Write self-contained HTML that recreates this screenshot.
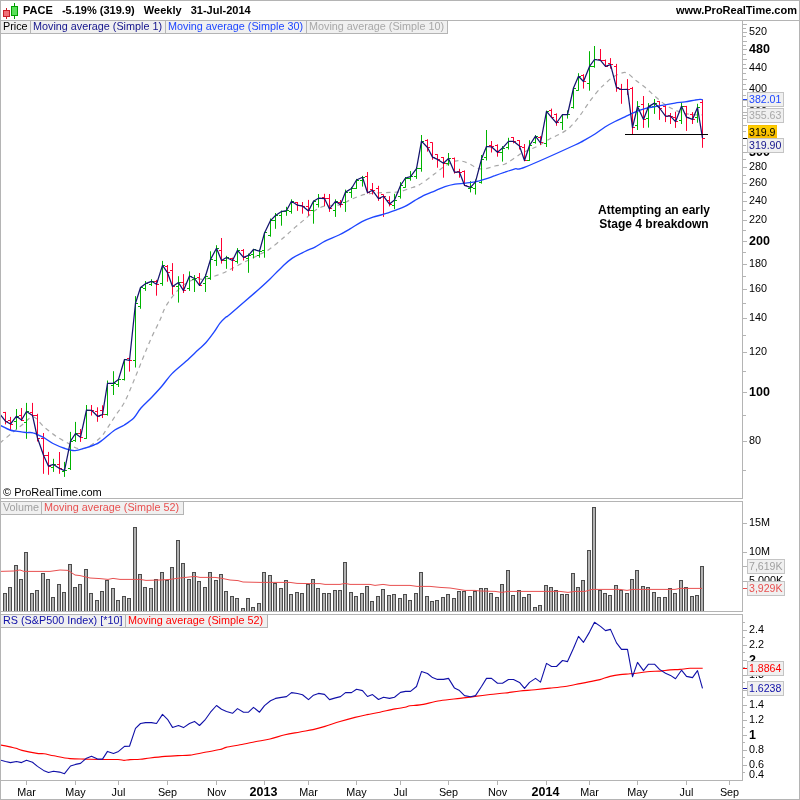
<!DOCTYPE html>
<html><head><meta charset="utf-8"><title>PACE Weekly</title>
<style>
html,body{margin:0;padding:0;background:#fff;}
body{width:800px;height:800px;position:relative;overflow:hidden;will-change:transform;font-family:"Liberation Sans",sans-serif;font-size:11px;color:#000;}
.t{position:absolute;white-space:nowrap;line-height:14px;font-size:10.8px;}
.b{font-size:11px;}
.b{font-weight:bold;}
.b12{font-weight:bold;font-size:12px;line-height:15px;}
.b125{font-weight:bold;font-size:12.5px;line-height:15px;}
.lg{position:absolute;box-sizing:border-box;height:13px;line-height:10px;font-size:10.8px;background:#f0f0f0;border-right:1px solid #b4b4b4;border-bottom:1px solid #b4b4b4;padding-left:2px;white-space:nowrap;overflow:hidden;}
.vb{position:absolute;box-sizing:border-box;font-size:10.6px;border:1px solid #c4c4c4;padding-left:1px;white-space:nowrap;}
</style></head><body>
<svg width="800" height="800" viewBox="0 0 800 800" style="position:absolute;left:0;top:0"><defs><clipPath id="c1"><rect x="1" y="34" width="741" height="464"/></clipPath><clipPath id="c3"><rect x="1" y="615" width="741" height="165"/></clipPath></defs><g clip-path="url(#c1)"><path d="M0.0 443.0C2.0 441.3 8.3 436.0 12.0 433.0C15.7 430.0 18.5 427.7 22.0 425.0C25.5 422.3 29.3 416.6 33.0 416.9C36.7 417.2 40.2 423.7 44.0 426.9C47.8 430.1 51.8 433.4 56.0 436.2C60.2 439.1 65.3 441.7 69.0 443.8C72.7 445.8 74.8 448.0 78.0 448.5C81.2 449.0 84.3 448.6 88.0 446.9C91.7 445.1 96.8 441.0 100.0 438.0C103.2 435.0 104.5 432.3 107.0 428.7C109.5 425.1 112.0 420.9 115.0 416.3C118.0 411.7 121.7 407.6 125.0 401.2C128.3 394.8 131.7 385.8 135.0 377.8C138.3 369.8 142.2 359.9 145.0 353.0C147.8 346.1 149.5 342.0 152.0 336.5C154.5 331.0 157.7 325.1 160.0 320.0C162.3 314.9 163.3 310.6 166.0 306.0C168.7 301.4 172.8 296.0 176.0 292.3C179.2 288.6 181.8 286.2 185.0 284.0C188.2 281.8 191.7 280.0 195.0 279.2C198.3 278.4 201.7 279.7 205.0 279.2C208.3 278.7 211.7 277.1 215.0 276.0C218.3 274.9 222.5 273.4 225.0 272.3C227.5 271.2 226.7 271.2 230.0 269.5C233.3 267.8 240.0 264.3 245.0 261.8C250.0 259.3 255.8 256.5 260.0 254.3C264.2 252.1 265.8 251.8 270.0 248.8C274.2 245.8 280.8 240.0 285.0 236.4C289.2 232.8 291.7 230.3 295.0 227.4C298.3 224.5 301.7 222.0 305.0 219.2C308.3 216.4 311.7 212.7 315.0 210.5C318.3 208.3 320.8 206.9 325.0 206.0C329.2 205.1 335.8 205.8 340.0 204.8C344.2 203.8 346.3 201.6 350.0 200.0C353.7 198.4 357.8 196.3 362.0 195.2C366.2 194.0 370.3 193.6 375.0 193.1C379.7 192.6 385.8 192.6 390.0 192.4C394.2 192.2 396.7 192.4 400.0 191.7C403.3 191.0 407.0 189.3 410.0 188.3C413.0 187.3 415.5 186.7 418.0 185.5C420.5 184.3 422.2 183.0 425.0 181.0C427.8 179.0 431.7 176.1 435.0 173.6C438.3 171.1 441.7 168.1 445.0 166.0C448.3 163.9 452.2 162.0 455.0 161.2C457.8 160.4 459.5 160.7 462.0 161.2C464.5 161.7 467.5 162.8 470.0 164.0C472.5 165.2 474.5 167.3 477.0 168.1C479.5 168.9 482.0 169.2 485.0 168.8C488.0 168.5 491.7 166.8 495.0 166.0C498.3 165.2 501.7 165.4 505.0 164.0C508.3 162.6 512.2 159.6 515.0 157.8C517.8 156.0 519.5 154.4 522.0 153.0C524.5 151.6 527.0 150.8 530.0 149.5C533.0 148.2 536.7 146.8 540.0 145.0C543.3 143.2 546.7 140.6 550.0 138.8C553.3 137.0 556.7 135.9 560.0 134.0C563.3 132.1 566.7 130.3 570.0 127.2C573.3 124.1 576.7 119.9 580.0 115.5C583.3 111.1 586.7 105.5 590.0 101.0C593.3 96.5 597.5 91.4 600.0 88.6C602.5 85.8 603.0 85.7 605.0 83.9C607.0 82.1 609.5 79.4 612.0 77.7C614.5 76.0 617.5 74.4 620.0 73.6C622.5 72.8 624.5 71.9 627.0 72.9C629.5 73.9 632.0 77.4 635.0 79.8C638.0 82.2 641.7 84.5 645.0 87.3C648.3 90.0 651.7 93.4 655.0 96.3C658.3 99.2 661.7 102.2 665.0 104.5C668.3 106.8 671.7 108.5 675.0 110.0C678.3 111.5 681.7 112.7 685.0 113.5C688.3 114.3 692.2 114.6 695.0 114.8C697.8 115.0 700.8 114.8 702.0 114.8" fill="none" stroke="#a8a8a8" stroke-width="1.2" stroke-dasharray="4.5,4"/><path d="M16.5 409.0V429.4M14.0 421.5H16.5M16.5 416.5H19.0M26.5 402.9V438.8M24.0 422.5H26.5M26.5 411.5H29.0M53.5 458.8V471.9M51.0 467.5H53.5M53.5 464.5H56.0M64.5 461.9V476.9M62.0 471.5H64.5M64.5 470.5H67.0M70.5 431.9V470.0M68.0 468.5H70.5M70.5 441.5H73.0M75.5 421.9V441.9M73.0 440.5H75.5M75.5 433.5H78.0M86.5 405.0V438.8M84.0 438.5H86.5M86.5 410.5H89.0M107.5 380.5V415.6M105.0 414.5H107.5M107.5 383.5H110.0M113.5 371.2V395.0M111.0 385.5H113.5M113.5 383.5H116.0M118.5 379.4V387.0M116.0 384.5H118.5M118.5 379.5H121.0M124.5 359.2V380.5M122.0 379.5H124.5M124.5 359.5H127.0M135.5 296.1V367.5M133.0 360.5H135.5M135.5 303.5H138.0M140.5 287.5V308.8M138.0 306.5H140.5M140.5 287.5H143.0M145.5 281.0V290.9M143.0 288.5H145.5M145.5 283.5H148.0M151.5 279.2V286.0M149.0 284.5H151.5M151.5 281.5H154.0M162.5 260.9V285.8M160.0 283.5H162.5M162.5 265.5H165.0M178.5 276.2V302.6M176.0 286.5H178.5M178.5 282.5H181.0M189.5 271.4V290.9M187.0 288.5H189.5M189.5 276.5H192.0M194.5 275.1V292.0M192.0 279.5H194.5M194.5 278.5H197.0M205.5 274.4V292.0M203.0 283.5H205.5M205.5 276.5H208.0M210.5 251.3V279.9M208.0 278.5H210.5M210.5 259.5H213.0M216.5 245.2V265.9M214.0 260.5H216.5M216.5 248.5H219.0M226.5 255.8V268.8M224.0 260.5H226.5M226.5 257.5H229.0M237.5 248.1V263.6M235.0 261.5H237.5M237.5 250.5H240.0M248.5 253.6V272.8M246.0 258.5H248.5M248.5 255.5H251.0M253.5 248.8V258.4M251.0 254.5H253.5M253.5 249.5H256.0M259.5 249.5V257.7M257.0 255.5H259.5M259.5 251.5H262.0M264.5 232.3V257.7M262.0 250.5H264.5M264.5 232.5H267.0M270.5 218.5V236.7M268.0 235.5H270.5M270.5 220.5H273.0M275.5 213.0V228.8M273.0 220.5H275.5M275.5 215.5H278.0M281.5 210.5V225.7M279.0 215.5H281.5M281.5 211.5H284.0M286.5 206.8V215.8M284.0 211.5H286.5M286.5 210.5H289.0M291.5 199.3V213.7M289.0 211.5H291.5M291.5 201.5H294.0M313.5 200.6V223.7M311.0 210.5H313.5M313.5 201.5H316.0M318.5 194.0V207.5M316.0 204.5H318.5M318.5 198.5H321.0M335.5 199.3V216.9M333.0 210.5H335.5M335.5 201.5H338.0M345.5 189.6V211.9M343.0 202.5H345.5M345.5 192.5H348.0M351.5 186.9V197.9M349.0 192.5H351.5M351.5 188.5H354.0M356.5 178.9V189.0M354.0 188.5H356.5M356.5 180.5H359.0M362.5 175.9V186.6M360.0 180.5H362.5M362.5 177.5H365.0M394.5 193.8V209.2M392.0 205.5H394.5M394.5 200.5H397.0M400.5 182.1V198.6M398.0 196.5H400.5M400.5 185.5H403.0M405.5 177.0V187.6M403.0 187.5H405.5M405.5 178.5H408.0M410.5 171.1V180.7M408.0 178.5H410.5M410.5 176.5H413.0M416.5 167.0V178.9M414.0 176.5H416.5M416.5 168.5H419.0M421.5 135.0V171.7M419.0 168.5H421.5M421.5 141.5H424.0M448.5 153.0V165.7M446.0 163.5H448.5M448.5 158.5H451.0M470.5 181.2V192.4M468.0 188.5H470.5M470.5 187.5H473.0M475.5 179.5V194.6M473.0 188.5H475.5M475.5 181.5H478.0M481.5 155.0V183.6M479.0 182.5H481.5M481.5 159.5H484.0M486.5 130.0V160.5M484.0 157.5H486.5M486.5 146.5H489.0M502.5 146.1V161.6M500.0 152.5H502.5M502.5 148.5H505.0M508.5 137.8V149.5M506.0 147.5H508.5M508.5 141.5H511.0M529.5 140.2V161.0M527.0 160.5H529.5M529.5 145.5H532.0M535.5 135.1V143.7M533.0 142.5H535.5M535.5 136.5H538.0M546.5 110.7V147.0M544.0 143.5H546.5M546.5 111.5H549.0M562.5 114.5V129.9M560.0 122.5H562.5M562.5 114.5H565.0M567.5 110.4V118.6M565.0 114.5H567.5M567.5 114.5H570.0M573.5 87.5V108.6M571.0 107.5H573.5M573.5 88.5H576.0M578.5 73.2V90.7M576.0 90.5H578.5M578.5 76.5H581.0M589.5 51.2V90.7M587.0 83.5H589.5M589.5 66.5H592.0M594.5 46.0V67.7M592.0 66.5H594.5M594.5 59.5H597.0M637.5 101.1V130.0M635.0 125.5H637.5M637.5 106.5H640.0M648.5 103.1V127.6M646.0 118.5H648.5M648.5 106.5H651.0M654.5 99.0V113.9M652.0 106.5H654.5M654.5 103.5H657.0M681.5 102.5V124.0M679.0 120.5H681.5M681.5 106.5H684.0M697.5 103.8V122.7M695.0 117.5H697.5M697.5 107.5H700.0" stroke="#00b400" stroke-width="1" fill="none"/><path d="M5.5 411.9V424.4M3.0 412.5H5.5M5.5 421.5H8.0M10.5 416.9V430.0M8.0 420.5H10.5M10.5 424.5H13.0M21.5 408.0V421.0M19.0 415.5H21.5M21.5 420.5H24.0M32.5 402.9V416.9M30.0 412.5H32.5M32.5 415.5H35.0M37.5 413.8V441.5M35.0 415.5H37.5M37.5 438.5H40.0M43.5 433.0V473.8M41.0 438.5H43.5M43.5 455.5H46.0M48.5 451.9V474.8M46.0 455.5H48.5M48.5 466.5H51.0M59.5 452.0V473.8M57.0 464.5H59.5M59.5 468.5H62.0M80.5 429.0V441.9M78.0 433.5H80.5M80.5 437.5H83.0M91.5 405.0V415.6M89.0 410.5H91.5M91.5 410.5H94.0M97.5 407.3V421.8M95.0 411.5H97.5M97.5 416.5H100.0M102.5 405.3V418.0M100.0 410.5H102.5M102.5 414.5H105.0M129.5 357.8V371.6M127.0 358.5H129.5M129.5 360.5H132.0M156.5 279.9V295.7M154.0 281.5H156.5M156.5 284.5H159.0M167.5 265.0V281.7M165.0 266.5H167.5M167.5 272.5H170.0M172.5 263.1V294.7M170.0 270.5H172.5M172.5 286.5H175.0M183.5 274.1V293.0M181.0 282.5H183.5M183.5 290.5H186.0M199.5 273.0V286.0M197.0 277.5H199.5M199.5 285.5H202.0M221.5 238.0V263.6M219.0 250.5H221.5M221.5 260.5H224.0M232.5 257.7V270.8M230.0 258.5H232.5M232.5 260.5H235.0M243.5 249.0V260.5M241.0 250.5H243.5M243.5 257.5H246.0M297.5 202.0V210.9M295.0 202.5H297.5M297.5 205.5H300.0M302.5 202.0V213.7M300.0 205.5H302.5M302.5 206.5H305.0M308.5 199.9V215.8M306.0 206.5H308.5M308.5 210.5H311.0M324.5 193.8V206.1M322.0 197.5H324.5M324.5 198.5H327.0M329.5 194.0V211.9M327.0 198.5H329.5M329.5 208.5H332.0M340.5 200.0V207.5M338.0 202.5H340.5M340.5 204.5H343.0M367.5 172.0V193.5M365.0 176.5H367.5M367.5 192.5H370.0M372.5 183.0V194.5M370.0 189.5H372.5M372.5 190.5H375.0M378.5 185.8V200.9M376.0 188.5H378.5M378.5 198.5H381.0M383.5 194.5V216.9M381.0 194.5H383.5M383.5 196.5H386.0M389.5 196.2V206.4M387.0 200.5H389.5M389.5 204.5H392.0M427.5 139.2V151.6M425.0 140.5H427.5M427.5 147.5H430.0M432.5 142.4V159.8M430.0 142.5H432.5M432.5 157.5H435.0M437.5 154.3V167.7M435.0 154.5H437.5M437.5 159.5H440.0M443.5 157.1V177.7M441.0 157.5H443.5M443.5 163.5H446.0M454.5 157.5V173.6M452.0 158.5H454.5M454.5 172.5H457.0M459.5 168.8V177.7M457.0 171.5H459.5M459.5 172.5H462.0M464.5 170.4V186.0M462.0 171.5H464.5M464.5 185.5H467.0M491.5 141.0V152.5M489.0 145.5H491.5M491.5 146.5H494.0M497.5 144.3V156.7M495.0 145.5H497.5M497.5 152.5H500.0M513.5 137.1V143.3M511.0 137.5H513.5M513.5 141.5H516.0M519.5 140.2V149.5M517.0 140.5H519.5M519.5 146.5H522.0M524.5 144.0V161.2M522.0 147.5H524.5M524.5 160.5H527.0M540.5 136.1V145.0M538.0 137.5H540.5M540.5 142.5H543.0M551.5 108.6V117.5M549.0 110.5H551.5M551.5 117.5H554.0M556.5 113.4V125.8M554.0 114.5H556.5M556.5 122.5H559.0M583.5 74.2V88.6M581.0 75.5H583.5M583.5 81.5H586.0M600.5 49.0V60.4M598.0 59.5H600.5M600.5 60.5H603.0M605.5 59.5V66.9M603.0 60.5H605.5M605.5 66.5H608.0M610.5 58.1V68.7M608.0 63.5H610.5M610.5 64.5H613.0M616.5 63.9V91.8M614.0 66.5H616.5M616.5 87.5H619.0M621.5 83.9V103.8M619.0 89.5H621.5M621.5 89.5H624.0M627.5 79.1V94.9M625.0 89.5H627.5M627.5 89.5H630.0M632.5 86.9V134.5M630.0 88.5H632.5M632.5 127.5H635.0M643.5 96.0V127.9M641.0 104.5H643.5M643.5 119.5H646.0M659.5 101.1V119.9M657.0 101.5H659.5M659.5 108.5H662.0M665.5 105.2V122.1M663.0 106.5H665.5M665.5 116.5H668.0M670.5 113.0V124.0M668.0 115.5H670.5M670.5 116.5H673.0M675.5 111.7V127.9M673.0 117.5H675.5M675.5 121.5H678.0M686.5 105.9V130.9M684.0 106.5H686.5M686.5 117.5H689.0M692.5 112.1V124.0M690.0 114.5H692.5M692.5 119.5H695.0M702.5 99.5V147.8M700.0 102.5H702.5M702.5 138.5H705.0" stroke="#ff0033" stroke-width="1" fill="none"/><path d="M0.0 425.2C1.7 426.0 7.3 429.0 10.0 430.0C12.7 431.0 13.3 430.8 16.0 431.2C18.7 431.7 23.2 432.2 26.0 432.5C28.8 432.8 30.2 432.0 33.0 432.8C35.8 433.5 39.7 435.5 43.0 437.2C46.3 439.0 49.3 441.6 53.0 443.5C56.7 445.4 61.3 447.3 65.0 448.5C68.7 449.7 71.7 450.7 75.0 450.6C78.3 450.5 81.8 449.0 85.0 448.1C88.2 447.2 91.5 446.0 94.0 445.0C96.5 444.0 96.5 444.4 100.0 441.9C103.5 439.4 110.8 432.8 114.8 430.0C118.8 427.2 120.8 427.2 124.0 425.2C127.2 423.1 131.2 420.6 134.0 417.7C136.8 414.8 138.0 411.4 141.0 408.0C144.0 404.6 148.5 400.7 152.0 397.0C155.5 393.3 158.7 389.9 162.0 386.0C165.3 382.1 168.0 377.7 172.0 373.6C176.0 369.5 181.7 365.2 186.0 361.3C190.3 357.4 194.7 353.1 198.0 350.0C201.3 346.9 203.3 345.5 206.0 342.5C208.7 339.5 211.7 335.4 214.0 332.2C216.3 329.0 218.0 325.7 220.0 323.2C222.0 320.7 224.3 318.5 226.0 317.0C227.7 315.5 224.7 318.8 230.0 314.3C235.3 309.8 251.3 295.9 258.0 290.0C264.7 284.1 266.0 282.9 270.0 279.0C274.0 275.1 278.3 270.3 282.0 266.9C285.7 263.5 288.2 261.0 292.0 258.4C295.8 255.8 301.2 253.4 305.0 251.5C308.8 249.6 311.7 248.8 315.0 247.1C318.3 245.4 321.0 243.2 325.0 241.2C329.0 239.2 334.8 237.1 339.0 235.0C343.2 232.9 346.2 231.1 350.0 228.9C353.8 226.7 358.2 223.6 362.0 221.7C365.8 219.8 369.5 218.4 373.0 217.2C376.5 216.0 379.3 215.6 383.0 214.4C386.7 213.2 391.3 211.6 395.0 210.3C398.7 209.0 401.7 208.1 405.0 206.4C408.3 204.8 411.7 202.3 415.0 200.4C418.3 198.5 421.7 196.5 425.0 194.9C428.3 193.3 431.7 192.2 435.0 190.8C438.3 189.4 441.7 187.8 445.0 186.7C448.3 185.6 451.7 184.8 455.0 184.2C458.3 183.6 461.7 183.6 465.0 183.2C468.3 182.8 471.7 182.5 475.0 181.8C478.3 181.1 481.7 180.1 485.0 179.1C488.3 178.1 491.7 176.8 495.0 175.7C498.3 174.5 501.7 173.3 505.0 172.2C508.3 171.0 511.7 169.7 515.0 168.8C518.3 168.0 515.0 171.1 525.0 167.1C535.0 163.1 565.0 149.6 575.0 145.0C585.0 140.4 581.7 141.6 585.0 139.8C588.3 138.0 591.7 136.1 595.0 134.0C598.3 131.9 601.7 129.1 605.0 127.0C608.3 124.9 611.7 123.2 615.0 121.5C618.3 119.8 621.7 118.5 625.0 116.9C628.3 115.3 631.7 113.5 635.0 112.1C638.3 110.7 641.7 109.5 645.0 108.6C648.3 107.7 651.7 107.2 655.0 106.6C658.3 106.0 661.7 105.4 665.0 104.8C668.3 104.2 671.7 103.6 675.0 103.1C678.3 102.6 681.7 102.3 685.0 101.8C688.3 101.3 692.5 100.5 695.0 100.1C697.5 99.7 698.7 99.5 700.0 99.4C701.3 99.3 702.2 99.7 702.7 99.7" fill="none" stroke="#1e46ff" stroke-width="1.35" stroke-linejoin="round"/><polyline points="-0.5,413.5 5.5,421.2 10.5,424.0 16.5,416.2 21.5,420.0 26.5,411.5 32.5,415.4 37.5,438.0 43.5,455.2 48.5,466.2 53.5,464.4 59.5,468.5 64.5,470.6 70.5,441.2 75.5,433.5 80.5,437.2 86.5,410.0 91.5,410.3 97.5,416.3 102.5,414.6 107.5,383.3 113.5,383.3 118.5,379.4 124.5,359.5 129.5,360.3 135.5,303.3 140.5,287.5 145.5,283.7 151.5,281.3 156.5,284.3 162.5,265.4 167.5,272.7 172.5,286.5 178.5,282.6 183.5,290.6 189.5,276.0 194.5,278.5 199.5,285.4 205.5,276.0 210.5,259.5 216.5,248.3 221.5,260.5 226.5,257.5 232.5,260.5 237.5,250.4 243.5,257.3 248.5,255.4 253.5,249.5 259.5,251.2 264.5,233.0 270.5,220.6 275.5,215.5 281.5,211.6 286.5,210.5 291.5,201.3 297.5,205.2 302.5,206.1 308.5,210.9 313.5,201.3 318.5,198.2 324.5,198.6 329.5,208.9 335.5,201.3 340.5,204.8 345.5,192.1 351.5,188.5 356.5,180.0 362.5,177.3 367.5,192.7 372.5,190.3 378.5,198.6 383.5,196.2 389.5,204.1 394.5,200.0 400.5,185.5 405.5,178.0 410.5,176.6 416.5,168.6 421.5,141.1 427.5,147.5 432.5,157.1 437.5,159.4 443.5,163.3 448.5,158.5 454.5,172.2 459.5,172.2 464.5,185.3 470.5,187.3 475.5,181.8 481.5,159.1 486.5,146.5 491.5,146.8 497.5,152.3 502.5,148.1 508.5,141.3 513.5,141.3 519.5,146.1 524.5,160.5 529.5,145.5 535.5,136.1 540.5,143.0 546.5,111.3 551.5,117.3 556.5,123.0 562.5,114.5 567.5,114.5 573.5,88.0 578.5,76.3 583.5,81.5 589.5,66.4 594.5,59.5 600.5,60.4 605.5,66.4 610.5,64.6 616.5,87.6 621.5,89.5 627.5,89.4 632.5,127.6 637.5,106.6 643.5,119.4 648.5,106.6 654.5,103.1 659.5,108.0 665.5,116.2 670.5,116.2 675.5,121.7 681.5,106.2 686.5,117.2 692.5,119.4 697.5,107.5 702.5,138.2" fill="none" stroke="#14146e" stroke-width="1.25" stroke-linejoin="round"/><line x1="625" y1="134.5" x2="708" y2="134.5" stroke="#000" stroke-width="1.2"/></g><g fill="#b2b2b2" stroke="#4c4c4c" stroke-width="1" shape-rendering="crispEdges"><rect x="3.5" y="593.5" width="3" height="18.0"/><rect x="8.5" y="587.5" width="3" height="24.0"/><rect x="14.5" y="565.5" width="3" height="46.0"/><rect x="19.5" y="579.5" width="3" height="32.0"/><rect x="24.5" y="552.5" width="3" height="59.0"/><rect x="30.5" y="593.5" width="3" height="18.0"/><rect x="35.5" y="590.5" width="3" height="21.0"/><rect x="41.5" y="573.5" width="3" height="38.0"/><rect x="46.5" y="579.5" width="3" height="32.0"/><rect x="51.5" y="597.5" width="3" height="14.0"/><rect x="57.5" y="584.5" width="3" height="27.0"/><rect x="62.5" y="592.5" width="3" height="19.0"/><rect x="68.5" y="564.5" width="3" height="47.0"/><rect x="73.5" y="587.5" width="3" height="24.0"/><rect x="78.5" y="584.5" width="3" height="27.0"/><rect x="84.5" y="569.5" width="3" height="42.0"/><rect x="89.5" y="593.5" width="3" height="18.0"/><rect x="95.5" y="600.5" width="3" height="11.0"/><rect x="100.5" y="591.5" width="3" height="20.0"/><rect x="105.5" y="580.5" width="3" height="31.0"/><rect x="111.5" y="588.5" width="3" height="23.0"/><rect x="116.5" y="600.5" width="3" height="11.0"/><rect x="122.5" y="596.5" width="3" height="15.0"/><rect x="127.5" y="598.5" width="3" height="13.0"/><rect x="133.5" y="527.5" width="3" height="84.0"/><rect x="138.5" y="574.5" width="3" height="37.0"/><rect x="143.5" y="587.5" width="3" height="24.0"/><rect x="149.5" y="588.5" width="3" height="23.0"/><rect x="154.5" y="579.5" width="3" height="32.0"/><rect x="160.5" y="572.5" width="3" height="39.0"/><rect x="165.5" y="580.5" width="3" height="31.0"/><rect x="170.5" y="567.5" width="3" height="44.0"/><rect x="176.5" y="540.5" width="3" height="71.0"/><rect x="181.5" y="563.5" width="3" height="48.0"/><rect x="187.5" y="579.5" width="3" height="32.0"/><rect x="192.5" y="572.5" width="3" height="39.0"/><rect x="197.5" y="581.5" width="3" height="30.0"/><rect x="203.5" y="587.5" width="3" height="24.0"/><rect x="208.5" y="572.5" width="3" height="39.0"/><rect x="214.5" y="580.5" width="3" height="31.0"/><rect x="219.5" y="574.5" width="3" height="37.0"/><rect x="224.5" y="591.5" width="3" height="20.0"/><rect x="230.5" y="596.5" width="3" height="15.0"/><rect x="235.5" y="598.5" width="3" height="13.0"/><rect x="241.5" y="608.5" width="3" height="3.0"/><rect x="246.5" y="598.5" width="3" height="13.0"/><rect x="251.5" y="607.5" width="3" height="4.0"/><rect x="257.5" y="603.5" width="3" height="8.0"/><rect x="262.5" y="572.5" width="3" height="39.0"/><rect x="268.5" y="575.5" width="3" height="36.0"/><rect x="273.5" y="583.5" width="3" height="28.0"/><rect x="279.5" y="588.5" width="3" height="23.0"/><rect x="284.5" y="580.5" width="3" height="31.0"/><rect x="289.5" y="594.5" width="3" height="17.0"/><rect x="295.5" y="592.5" width="3" height="19.0"/><rect x="300.5" y="593.5" width="3" height="18.0"/><rect x="306.5" y="584.5" width="3" height="27.0"/><rect x="311.5" y="579.5" width="3" height="32.0"/><rect x="316.5" y="588.5" width="3" height="23.0"/><rect x="322.5" y="593.5" width="3" height="18.0"/><rect x="327.5" y="593.5" width="3" height="18.0"/><rect x="333.5" y="590.5" width="3" height="21.0"/><rect x="338.5" y="590.5" width="3" height="21.0"/><rect x="343.5" y="562.5" width="3" height="49.0"/><rect x="349.5" y="592.5" width="3" height="19.0"/><rect x="354.5" y="596.5" width="3" height="15.0"/><rect x="360.5" y="593.5" width="3" height="18.0"/><rect x="365.5" y="586.5" width="3" height="25.0"/><rect x="370.5" y="601.5" width="3" height="10.0"/><rect x="376.5" y="596.5" width="3" height="15.0"/><rect x="381.5" y="589.5" width="3" height="22.0"/><rect x="387.5" y="595.5" width="3" height="16.0"/><rect x="392.5" y="594.5" width="3" height="17.0"/><rect x="398.5" y="598.5" width="3" height="13.0"/><rect x="403.5" y="594.5" width="3" height="17.0"/><rect x="408.5" y="600.5" width="3" height="11.0"/><rect x="414.5" y="593.5" width="3" height="18.0"/><rect x="419.5" y="572.5" width="3" height="39.0"/><rect x="425.5" y="596.5" width="3" height="15.0"/><rect x="430.5" y="601.5" width="3" height="10.0"/><rect x="435.5" y="600.5" width="3" height="11.0"/><rect x="441.5" y="597.5" width="3" height="14.0"/><rect x="446.5" y="594.5" width="3" height="17.0"/><rect x="452.5" y="598.5" width="3" height="13.0"/><rect x="457.5" y="591.5" width="3" height="20.0"/><rect x="462.5" y="591.5" width="3" height="20.0"/><rect x="468.5" y="596.5" width="3" height="15.0"/><rect x="473.5" y="591.5" width="3" height="20.0"/><rect x="479.5" y="588.5" width="3" height="23.0"/><rect x="484.5" y="588.5" width="3" height="23.0"/><rect x="489.5" y="593.5" width="3" height="18.0"/><rect x="495.5" y="597.5" width="3" height="14.0"/><rect x="500.5" y="584.5" width="3" height="27.0"/><rect x="506.5" y="570.5" width="3" height="41.0"/><rect x="511.5" y="595.5" width="3" height="16.0"/><rect x="517.5" y="590.5" width="3" height="21.0"/><rect x="522.5" y="597.5" width="3" height="14.0"/><rect x="527.5" y="594.5" width="3" height="17.0"/><rect x="533.5" y="607.5" width="3" height="4.0"/><rect x="538.5" y="605.5" width="3" height="6.0"/><rect x="544.5" y="585.5" width="3" height="26.0"/><rect x="549.5" y="587.5" width="3" height="24.0"/><rect x="554.5" y="590.5" width="3" height="21.0"/><rect x="560.5" y="594.5" width="3" height="17.0"/><rect x="565.5" y="594.5" width="3" height="17.0"/><rect x="571.5" y="573.5" width="3" height="38.0"/><rect x="576.5" y="587.5" width="3" height="24.0"/><rect x="581.5" y="580.5" width="3" height="31.0"/><rect x="587.5" y="550.5" width="3" height="61.0"/><rect x="592.5" y="507.5" width="3" height="104.0"/><rect x="598.5" y="590.5" width="3" height="21.0"/><rect x="603.5" y="593.5" width="3" height="18.0"/><rect x="608.5" y="595.5" width="3" height="16.0"/><rect x="614.5" y="585.5" width="3" height="26.0"/><rect x="619.5" y="590.5" width="3" height="21.0"/><rect x="625.5" y="593.5" width="3" height="18.0"/><rect x="630.5" y="579.5" width="3" height="32.0"/><rect x="635.5" y="570.5" width="3" height="41.0"/><rect x="641.5" y="586.5" width="3" height="25.0"/><rect x="646.5" y="587.5" width="3" height="24.0"/><rect x="652.5" y="592.5" width="3" height="19.0"/><rect x="657.5" y="597.5" width="3" height="14.0"/><rect x="663.5" y="597.5" width="3" height="14.0"/><rect x="668.5" y="588.5" width="3" height="23.0"/><rect x="673.5" y="593.5" width="3" height="18.0"/><rect x="679.5" y="580.5" width="3" height="31.0"/><rect x="684.5" y="587.5" width="3" height="24.0"/><rect x="690.5" y="596.5" width="3" height="15.0"/><rect x="695.5" y="595.5" width="3" height="16.0"/><rect x="700.5" y="566.5" width="3" height="45.0"/></g><polyline points="0.0,571.4 14.0,571.0 20.0,570.0 24.0,571.4 50.0,571.4 60.0,570.0 68.0,570.4 75.0,575.0 80.0,575.6 90.0,578.0 100.0,578.6 108.0,579.4 113.0,578.4 120.0,579.4 140.0,579.4 146.0,580.4 160.0,580.0 170.0,579.4 180.0,578.0 195.0,576.4 200.0,577.4 215.0,577.4 222.0,578.4 230.0,580.0 238.0,580.6 243.0,582.0 260.0,582.4 290.0,582.4 297.0,583.4 310.0,583.6 320.0,583.6 325.0,584.4 340.0,584.4 345.0,583.4 350.0,584.4 370.0,584.4 375.0,585.4 383.0,584.4 390.0,585.4 410.0,585.4 417.0,586.4 430.0,586.4 440.0,587.4 450.0,588.0 465.0,590.4 475.0,590.4 480.0,591.0 495.0,591.4 502.0,592.4 508.0,591.4 560.0,591.4 568.0,592.4 575.0,591.4 585.0,591.4 592.0,589.4 610.0,589.4 620.0,589.4 627.0,590.4 633.0,589.4 675.0,589.4 680.0,588.4 702.0,588.4" fill="none" stroke="#e85050" stroke-width="1"/><g clip-path="url(#c3)"><path d="M0.0 744.9C1.7 745.2 7.3 746.3 10.0 746.9C12.7 747.5 14.0 747.6 16.0 748.2C18.0 748.8 18.5 749.5 22.0 750.4C25.5 751.3 33.3 752.8 37.0 753.4C40.7 754.0 41.2 753.3 44.0 753.7C46.8 754.1 49.7 755.0 54.0 755.8C58.3 756.6 64.8 758.0 70.0 758.6C75.2 759.2 80.0 759.0 85.0 759.1C90.0 759.2 94.5 759.4 100.0 759.5C105.5 759.6 114.0 759.4 118.0 759.5C122.0 759.6 122.0 760.4 124.0 760.4C126.0 760.4 127.3 759.8 130.0 759.6C132.7 759.4 136.7 759.6 140.0 759.3C143.3 759.0 145.8 758.5 150.0 758.0C154.2 757.5 160.3 756.8 165.0 756.4C169.7 756.0 173.8 755.8 178.0 755.6C182.2 755.4 185.5 755.7 190.0 755.1C194.5 754.5 200.0 753.2 205.0 752.3C210.0 751.4 216.5 750.3 220.0 749.5C223.5 748.7 222.7 748.2 226.0 747.4C229.3 746.6 235.2 745.7 240.0 744.8C244.8 743.9 250.0 742.8 255.0 741.8C260.0 740.8 265.0 740.2 270.0 739.0C275.0 737.8 280.0 736.0 285.0 734.8C290.0 733.6 295.3 732.9 300.0 732.0C304.7 731.1 308.8 730.5 313.0 729.6C317.2 728.7 320.5 727.8 325.0 726.4C329.5 725.0 335.0 723.0 340.0 721.5C345.0 720.0 350.5 718.5 355.0 717.4C359.5 716.2 362.8 715.5 367.0 714.6C371.2 713.7 375.3 713.2 380.0 712.2C384.7 711.2 390.8 709.7 395.0 708.9C399.2 708.1 402.5 707.8 405.0 707.3C407.5 706.8 407.5 706.1 410.0 705.7C412.5 705.3 415.0 705.7 420.0 704.9C425.0 704.1 433.3 701.9 440.0 700.8C446.7 699.7 454.2 699.1 460.0 698.4C465.8 697.7 470.0 697.0 475.0 696.4C480.0 695.8 485.0 695.1 490.0 694.5C495.0 693.9 500.0 693.6 505.0 693.0C510.0 692.4 515.0 691.5 520.0 691.0C525.0 690.5 530.0 690.2 535.0 689.7C540.0 689.2 545.0 688.6 550.0 688.1C555.0 687.6 560.0 687.2 565.0 686.5C570.0 685.8 575.8 684.4 580.0 683.6C584.2 682.8 586.7 682.3 590.0 681.6C593.3 680.9 596.7 680.5 600.0 679.6C603.3 678.7 606.7 677.2 610.0 676.4C613.3 675.6 616.7 675.0 620.0 674.6C623.3 674.2 626.7 674.1 630.0 673.8C633.3 673.5 636.7 673.1 640.0 672.7C643.3 672.3 646.7 671.8 650.0 671.5C653.3 671.2 656.7 671.4 660.0 671.1C663.3 670.8 666.7 670.2 670.0 669.9C673.3 669.6 676.7 669.7 680.0 669.4C683.3 669.1 686.2 668.5 690.0 668.3C693.8 668.1 700.6 668.3 702.7 668.3" fill="none" stroke="#ff0000" stroke-width="1.1" stroke-linejoin="round"/><polyline points="-0.5,759.9 5.5,761.5 10.5,762.6 16.5,761.5 21.5,762.6 26.5,760.2 32.5,762.3 37.5,766.4 43.5,770.4 48.5,772.5 53.5,771.2 59.5,772.1 64.5,773.7 70.5,766.0 75.5,764.4 80.5,763.4 86.5,758.2 91.5,756.3 97.5,759.1 102.5,759.1 107.5,751.4 113.5,753.4 118.5,751.4 124.5,746.4 129.5,746.2 135.5,728.4 140.5,723.5 145.5,722.6 151.5,722.6 156.5,723.5 162.5,714.4 167.5,719.3 172.5,727.4 178.5,725.5 183.5,727.6 189.5,723.5 194.5,721.4 199.5,725.5 205.5,719.3 210.5,712.2 216.5,705.5 221.5,709.2 226.5,711.4 232.5,713.3 237.5,708.6 243.5,712.2 248.5,712.2 253.5,707.4 259.5,712.2 264.5,705.6 270.5,700.7 275.5,698.4 281.5,697.4 286.5,696.6 291.5,692.6 297.5,693.5 302.5,694.7 308.5,699.6 313.5,695.2 318.5,693.4 324.5,694.4 329.5,699.6 335.5,697.9 340.5,696.6 345.5,692.6 351.5,692.6 356.5,689.3 362.5,690.6 367.5,696.5 372.5,694.6 378.5,699.5 383.5,697.2 389.5,698.4 394.5,697.2 400.5,692.4 405.5,691.4 410.5,691.4 416.5,686.5 421.5,671.6 427.5,673.5 432.5,677.6 437.5,679.4 443.5,679.4 448.5,678.4 454.5,688.1 459.5,690.6 464.5,695.6 470.5,696.7 475.5,695.6 481.5,686.5 486.5,678.4 491.5,678.4 497.5,683.2 502.5,683.2 508.5,679.5 513.5,679.5 519.5,682.4 524.5,688.4 529.5,682.4 535.5,678.4 540.5,682.1 546.5,663.4 551.5,666.5 556.5,666.5 562.5,660.5 567.5,661.6 573.5,648.3 578.5,636.4 583.5,642.3 589.5,632.1 594.5,622.3 600.5,626.4 605.5,630.6 610.5,629.4 616.5,642.9 621.5,649.4 627.5,649.4 632.5,676.7 637.5,662.4 643.5,670.6 648.5,664.2 654.5,664.2 659.5,669.4 665.5,673.2 670.5,675.4 675.5,678.7 681.5,670.2 686.5,676.4 692.5,677.6 697.5,670.6 702.5,688.4" fill="none" stroke="#1010a8" stroke-width="1.1" stroke-linejoin="round"/></g><g stroke="#b4b4b4" stroke-width="1" fill="none" shape-rendering="crispEdges"><rect x="0.5" y="0.5" width="799" height="799"/><line x1="0" y1="20.5" x2="800" y2="20.5"/><line x1="0" y1="498.5" x2="743" y2="498.5"/><line x1="0" y1="501.5" x2="743" y2="501.5"/><line x1="0" y1="611.5" x2="743" y2="611.5"/><line x1="0" y1="614.5" x2="743" y2="614.5"/><line x1="0" y1="780.5" x2="743" y2="780.5"/><line x1="742.5" y1="20" x2="742.5" y2="499"/><line x1="742.5" y1="501" x2="742.5" y2="612"/><line x1="742.5" y1="614" x2="742.5" y2="781"/><path d="M743 470.5H746M743 441.5H747M743 415.5H746M743 392.5H747M743 371.5H746M743 352.5H747M743 335.5H746M743 318.5H747M743 303.5H746M743 289.5H747M743 276.5H746M743 264.5H747M743 252.5H746M743 241.5H747M743 230.5H746M743 220.5H747M743 210.5H746M743 201.5H747M743 192.5H746M743 183.5H747M743 175.5H746M743 167.5H747M743 159.5H746M743 152.5H747M743 145.5H746M743 138.5H747M743 131.5H746M743 125.5H747M743 118.5H746M743 112.5H747M743 106.5H746M743 100.5H747M743 95.5H746M743 89.5H747M743 84.5H746M743 79.5H747M743 73.5H746M743 68.5H747M743 64.5H746M743 59.5H747M743 54.5H746M743 49.5H747M743 45.5H746M743 41.5H747M743 36.5H746M743 32.5H747M743 28.5H746M743 24.5H747"/><path d="M743 523.5H747M743 552.5H747M743 581.5H747"/><path d="M743 566.5H747"/><path d="M743 772.5H745M743 765.5H747M743 757.5H745M743 750.5H747M743 742.5H745M743 735.5H747M743 727.5H745M743 720.5H747M743 712.5H745M743 705.5H747M743 697.5H745M743 690.5H747M743 682.5H745M743 675.5H747M743 667.5H745M743 660.5H747M743 652.5H745M743 645.5H747M743 637.5H745M743 630.5H747M743 622.5H745"/><path d="M26.5 781V785M75.5 781V785M118.5 781V785M167.5 781V785M216.5 781V785M264.5 781V785M308.5 781V785M356.5 781V785M400.5 781V785M448.5 781V785M497.5 781V785M546.5 781V785M589.5 781V785M637.5 781V785M686.5 781V785M729.5 781V785"/></g><g shape-rendering="crispEdges" fill="none"><path d="M743 99.5H748" stroke="#1e46ff" stroke-width="1"/><path d="M743 138.5H748" stroke="#000" stroke-width="1"/><path d="M743 115.5H748" stroke="#b4b4b4" stroke-width="1"/><path d="M743 588.5H748" stroke="#e85050" stroke-width="1"/><path d="M743 668.5H748" stroke="#ff0000" stroke-width="1"/><path d="M743 688.5H748" stroke="#1010a8" stroke-width="1"/></g><g shape-rendering="crispEdges"><path d="M6.5 8V19" stroke="#c81e28" fill="none"/><path d="M14.5 3V19" stroke="#00a000" fill="none"/><rect x="3.5" y="10.5" width="6" height="6" fill="#f07078" stroke="#c81e28"/><rect x="11.5" y="6.5" width="6" height="9" fill="#5ae05a" stroke="#00a000"/></g></svg>
<div class="t b" style="left:23px;top:3px;">PACE&nbsp;&nbsp; -5.19% (319.9)&nbsp;&nbsp; Weekly&nbsp;&nbsp; 31-Jul-2014</div><div class="t b" style="right:3px;top:3px">www.ProRealTime.com</div><div class="lg" style="left:1px;top:21px;width:30px;color:#000">Price</div><div class="lg" style="left:31px;top:21px;width:135px;color:#14148c">Moving average (Simple 1)</div><div class="lg" style="left:166px;top:21px;width:141px;color:#1e46ff">Moving average (Simple 30)</div><div class="lg" style="left:307px;top:21px;width:141px;color:#a8a8a8">Moving average (Simple 10)</div><div class="lg" style="left:1px;top:502px;width:41px;color:#a0a0a0">Volume</div><div class="lg" style="left:42px;top:502px;width:142px;color:#e85050">Moving average (Simple 52)</div><div class="lg" style="left:1px;top:615px;width:125px;color:#1010a8">RS (S&amp;P500 Index) [*10]</div><div class="lg" style="left:126px;top:615px;width:142px;color:#ff0000">Moving average (Simple 52)</div><div class="t " style="left:3px;top:485px;font-size:11px">© ProRealTime.com</div><div class="t b12" style="left:554px;top:203px;width:200px;text-align:center;line-height:14px">Attempting an early<br>Stage 4 breakdown</div><div class="t " style="left:749px;top:24px;">520</div><div class="t b125" style="left:749px;top:42px;">480</div><div class="t " style="left:749px;top:60px;">440</div><div class="t " style="left:749px;top:81px;">400</div><div class="t " style="left:749px;top:104px;">360</div><div class="t b125" style="left:749px;top:145px;">300</div><div class="t " style="left:749px;top:159px;">280</div><div class="t " style="left:749px;top:175px;">260</div><div class="t " style="left:749px;top:193px;">240</div><div class="t " style="left:749px;top:212px;">220</div><div class="t b125" style="left:749px;top:234px;">200</div><div class="t " style="left:749px;top:256px;">180</div><div class="t " style="left:749px;top:281px;">160</div><div class="t " style="left:749px;top:310px;">140</div><div class="t " style="left:749px;top:344px;">120</div><div class="t b125" style="left:749px;top:385px;">100</div><div class="t " style="left:749px;top:433px;">80</div><div class="t " style="left:749px;top:515px;">15M</div><div class="t " style="left:749px;top:544px;">10M</div><div class="t " style="left:749px;top:573px;">5,000K</div><div class="t " style="left:749px;top:622px;">2.4</div><div class="t " style="left:749px;top:637px;">2.2</div><div class="t b125" style="left:749px;top:653px;">2</div><div class="t " style="left:749px;top:667px;">1.8</div><div class="t " style="left:749px;top:682px;">1.6</div><div class="t " style="left:749px;top:697px;">1.4</div><div class="t " style="left:749px;top:712px;">1.2</div><div class="t b125" style="left:749px;top:728px;">1</div><div class="t " style="left:749px;top:742px;">0.8</div><div class="t " style="left:749px;top:757px;">0.6</div><div class="t " style="left:749px;top:767px;">0.4</div><div class="vb" style="left:747px;top:92px;width:37px;height:15px;line-height:13px;color:#1e46ff;background:#f0f0f0;border-color:#c4c4c4">382.01</div><div class="vb" style="left:747px;top:108px;width:37px;height:15px;line-height:13px;color:#a8a8a8;background:#f0f0f0;border-color:#c4c4c4">355.63</div><div class="vb" style="left:748px;top:125px;width:29px;height:13px;line-height:12px;padding-left:0;color:#000;background:linear-gradient(#ffd000,#f4b800);border-color:#f8c000">319.9</div><div class="vb" style="left:747px;top:138px;width:37px;height:15px;line-height:13px;color:#14148c;background:#f0f0f0;border-color:#c4c4c4">319.90</div><div class="vb" style="left:747px;top:559px;width:38px;height:15px;line-height:13px;color:#a0a0a0;background:#f0f0f0;border-color:#c4c4c4">7,619K</div><div class="vb" style="left:747px;top:581px;width:38px;height:15px;line-height:13px;color:#e85050;background:#f0f0f0;border-color:#c4c4c4">3,929K</div><div class="vb" style="left:747px;top:661px;width:37px;height:15px;line-height:13px;color:#ff0000;background:#f0f0f0;border-color:#c4c4c4">1.8864</div><div class="vb" style="left:747px;top:681px;width:37px;height:15px;line-height:13px;color:#1010a8;background:#f0f0f0;border-color:#c4c4c4">1.6238</div><div class="t " style="left:-3.5px;top:785px;width:60px;text-align:center">Mar</div><div class="t " style="left:45.5px;top:785px;width:60px;text-align:center">May</div><div class="t " style="left:88.5px;top:785px;width:60px;text-align:center">Jul</div><div class="t " style="left:137.5px;top:785px;width:60px;text-align:center">Sep</div><div class="t " style="left:186.5px;top:785px;width:60px;text-align:center">Nov</div><div class="t b125" style="left:233.5px;top:785px;width:60px;text-align:center">2013</div><div class="t " style="left:278.5px;top:785px;width:60px;text-align:center">Mar</div><div class="t " style="left:326.5px;top:785px;width:60px;text-align:center">May</div><div class="t " style="left:370.5px;top:785px;width:60px;text-align:center">Jul</div><div class="t " style="left:418.5px;top:785px;width:60px;text-align:center">Sep</div><div class="t " style="left:467.5px;top:785px;width:60px;text-align:center">Nov</div><div class="t b125" style="left:515.5px;top:785px;width:60px;text-align:center">2014</div><div class="t " style="left:559.5px;top:785px;width:60px;text-align:center">Mar</div><div class="t " style="left:607.5px;top:785px;width:60px;text-align:center">May</div><div class="t " style="left:656.5px;top:785px;width:60px;text-align:center">Jul</div><div class="t " style="left:699.5px;top:785px;width:60px;text-align:center">Sep</div>
</body></html>
